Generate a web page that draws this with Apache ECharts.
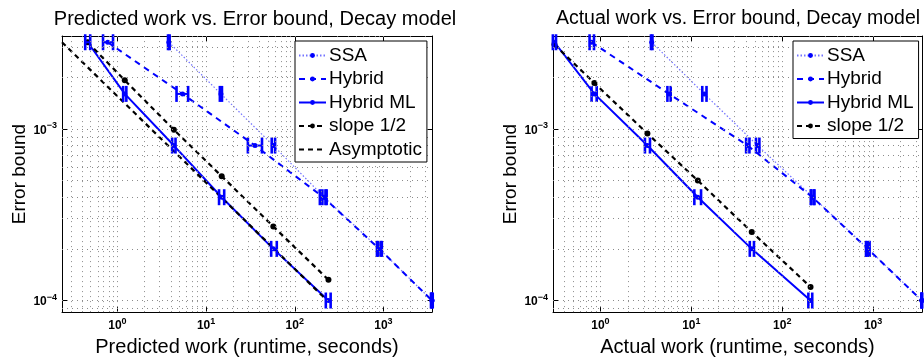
<!DOCTYPE html>
<html>
<head>
<meta charset="utf-8">
<title>Work vs. Error bound, Decay model</title>
<script src="https://cdn.jsdelivr.net/npm/echarts@6/dist/echarts.min.js"></script>
<style>
  html, body { margin: 0; padding: 0; background: #fff; }
  #chart { width: 924px; height: 362px; }
</style>
</head>
<body>
<div id="chart"></div>
<script>
const FONT = '"Liberation Sans", Arial, Helvetica, sans-serif';
const BLUE = '#0000ff';

// error bound levels (y values shared by both panels)
const errBound = [3.2e-3, 1.6e-3, 8e-4, 4e-4, 2e-4, 1e-4];

// left panel: predicted work (seconds)
const predSSA      = [3.80, 14.7, 57.3, 215, 900, 3532];
const predSSALo    = [3.72, 14.3, 55.0, 205, 870, 3480];
const predSSAHi    = [3.88, 15.1, 60.0, 222, 930, 3532];
const predHybrid   = [0.777, 5.43, 35.6, 210, 897, 3532];
const predHybridLo = [0.688, 4.64, 29.6, 192, 845, 3440];
const predHybridHi = [0.892, 6.27, 42.7, 229, 960, 3600];
const predML       = [0.462, 1.21, 4.33, 15.0, 57.3, 240];
const predMLLo     = [0.433, 1.16, 4.14, 14.0, 54.2, 224];
const predMLHi     = [0.493, 1.26, 4.52, 16.0, 62.7, 254];
const predSlope    = [3.2e-3, 1.92e-3, 9.9e-4, 5.3e-4, 2.7e-4, 1.32e-4];
const predAsymWork = [0.237, 232];
const predAsymErr  = [3.2e-3, 1e-4];

// right panel: actual work (seconds)
const actSSA      = [3.67, 13.9, 53.7, 218, 880, 3450];
const actSSALo    = [3.60, 13.2, 51.5, 210, 850, 3400];
const actSSAHi    = [3.74, 14.7, 56.1, 226, 910, 3450];
const actHybrid   = [0.80, 5.69, 41.7, 215, 873, 3430];
const actHybridLo = [0.76, 5.46, 40.1, 206, 835, 3400];
const actHybridHi = [0.85, 5.93, 43.6, 224, 910, 3450];
const actML       = [0.312, 0.859, 3.29, 11.8, 46.2, 205];
const actMLLo     = [0.300, 0.80, 3.09, 10.8, 44.0, 194];
const actMLHi     = [0.325, 0.91, 3.51, 12.8, 48.9, 214];
const actSlope    = [3.1e-3, 1.85e-3, 9.4e-4, 5.0e-4, 2.51e-4, 1.2e-4];

const yRange = [8.56e-5, 3.48e-3];
const legendNamesLeft = ['SSA', 'Hybrid', 'Hybrid ML', 'slope 1/2', 'Asymptotic'];
const legendNamesRight = ['SSA', 'Hybrid', 'Hybrid ML', 'slope 1/2'];

const panels = [
  {
    title: 'Predicted work vs. Error bound, Decay model',
    titleX: 250, titleSize: 20,
    xName: 'Predicted work (runtime, seconds)',
    grid: { left: 62, top: 36, width: 370, height: 285 },
    xRange: [0.237, 3532],
    ssa: [predSSA, predSSALo, predSSAHi],
    hybrid: [predHybrid, predHybridLo, predHybridHi],
    ml: [predML, predMLLo, predMLHi],
    slope: predSlope,
    asym: [predAsymWork, predAsymErr],
    legend: { left: 295, names: legendNamesLeft }
  },
  {
    title: 'Actual work vs. Error bound, Decay model',
    titleX: 733, titleSize: 19.5,
    xName: 'Actual work (runtime, seconds)',
    grid: { left: 553, top: 36, width: 369, height: 285 },
    xRange: [0.301, 3450],
    ssa: [actSSA, actSSALo, actSSAHi],
    hybrid: [actHybrid, actHybridLo, actHybridHi],
    ml: [actML, actMLLo, actMLHi],
    slope: actSlope,
    asym: null,
    legend: { left: 793, names: legendNamesRight }
  }
];

// 1..9 x 10^k inside a range, for the matlab style dotted grid
function logGridValues(lo, hi) {
  const out = [];
  for (let k = Math.floor(Math.log10(lo)); k <= Math.ceil(Math.log10(hi)); k++) {
    for (let m = 1; m <= 9; m++) {
      const v = m * Math.pow(10, k);
      if (v > lo * 1.001 && v < hi * 0.999) out.push(v);
    }
  }
  return out;
}

function decadeLabel(v) {
  const e = Math.log10(v);
  const r = Math.round(e);
  if (Math.abs(e - r) > 1e-6) return '';
  return '{b|10}{s|' + (r < 0 ? '\u2212' + (-r) : r) + '}';
}

const tickRich = {
  b: { fontSize: 12, fontWeight: 'bold', fontFamily: FONT, color: '#000', lineHeight: 15, verticalAlign: 'bottom' },
  s: { fontSize: 9, fontWeight: 'bold', fontFamily: FONT, color: '#000', lineHeight: 15, verticalAlign: 'top' }
};

function makeAxes(p, gi) {
  const common = {
    type: 'log', logBase: 10, gridIndex: gi,
    axisLine: { show: true, lineStyle: { color: '#000', width: 1 } },
    axisTick: { show: true, inside: true, length: 5, lineStyle: { color: '#000' } },
    splitLine: { show: false },
    minorTick: { show: false }
  };
  const xs = [
    Object.assign({}, common, {
      position: 'bottom', min: p.xRange[0], max: p.xRange[1],
      name: p.xName, nameLocation: 'middle', nameGap: 22,
      nameTextStyle: { fontFamily: FONT, fontSize: 20, color: '#000' },
      axisLabel: { formatter: decadeLabel, rich: tickRich, margin: 5, showMinLabel: false, showMaxLabel: false }
    }),
    Object.assign({}, common, {
      position: 'top', min: p.xRange[0], max: p.xRange[1],
      axisLabel: { show: false }
    })
  ];
  const ys = [
    Object.assign({}, common, {
      position: 'left', min: yRange[0], max: yRange[1],
      name: 'Error bound', nameLocation: 'middle', nameGap: 30,
      nameTextStyle: { fontFamily: FONT, fontSize: 19, color: '#000' },
      axisLabel: { formatter: decadeLabel, rich: tickRich, margin: 5, showMinLabel: false, showMaxLabel: false }
    }),
    Object.assign({}, common, {
      position: 'right', min: yRange[0], max: yRange[1],
      axisLabel: { show: false }
    })
  ];
  return { xs, ys };
}

function lineSeries(name, gi, xs, ys, st) {
  return {
    name: name, type: 'line', xAxisIndex: gi * 2, yAxisIndex: gi * 2,
    data: xs.map((x, i) => [x, ys[i]]),
    symbol: st.symbol || 'circle', symbolSize: st.symbolSize || 5,
    showSymbol: st.symbol !== 'none',
    itemStyle: { color: st.markerColor || st.color },
    lineStyle: { color: st.color, width: st.width, type: st.type },
    z: st.z || 3, silent: true, animation: false
  };
}

function errorBarSeries(name, gi, xs, ys, lo, hi) {
  return {
    name: name, type: 'custom', xAxisIndex: gi * 2, yAxisIndex: gi * 2,
    data: xs.map((x, i) => [x, ys[i], lo[i], hi[i]]),
    encode: { x: 0, y: 1 },
    renderItem: function (params, api) {
      const y = api.value(1);
      const a = api.coord([api.value(2), y]);
      const b = api.coord([api.value(3), y]);
      const h = 8;
      const st = { stroke: BLUE, lineWidth: 2.6 };
      return {
        type: 'group',
        children: [
          { type: 'line', shape: { x1: a[0], y1: a[1], x2: b[0], y2: b[1] }, style: { stroke: BLUE, lineWidth: 2 } },
          { type: 'line', shape: { x1: a[0], y1: a[1] - h, x2: a[0], y2: a[1] + h }, style: st },
          { type: 'line', shape: { x1: b[0], y1: b[1] - h, x2: b[0], y2: b[1] + h }, style: st }
        ]
      };
    },
    z: 4, silent: true, animation: false
  };
}

const gridLineStyle = { color: '#8c8c8c', width: 1, type: [1, 4] };

const option = {
  animation: false,
  backgroundColor: '#fff',
  title: [], grid: [], xAxis: [], yAxis: [], legend: [], series: []
};

panels.forEach((p, gi) => {
  const g = p.grid;
  option.grid.push({ left: g.left, top: g.top, width: g.width, height: g.height, containLabel: false });
  option.title.push({
    text: p.title, left: p.titleX, top: 4, textAlign: 'center',
    textStyle: { fontFamily: FONT, fontSize: p.titleSize, fontWeight: 'normal', color: '#000' }
  });
  const ax = makeAxes(p, gi);
  option.xAxis.push(...ax.xs);
  option.yAxis.push(...ax.ys);

  // dotted grid at every 1..9 x 10^k, drawn edge to edge of the plot box
  const vLines = logGridValues(p.xRange[0], p.xRange[1])
    .map(v => [{ coord: [v, yRange[0]] }, { coord: [v, yRange[1]] }]);
  const hLines = logGridValues(yRange[0], yRange[1])
    .map(v => [{ coord: [p.xRange[0], v] }, { coord: [p.xRange[1], v] }]);
  option.series.push({
    name: 'grid' + gi, type: 'line', xAxisIndex: gi * 2, yAxisIndex: gi * 2, data: [],
    silent: true, z: 1, animation: false,
    markLine: {
      silent: true, symbol: ['none', 'none'], label: { show: false }, animation: false,
      lineStyle: gridLineStyle,
      emphasis: { disabled: true },
      data: vLines.concat(hLines)
    }
  });

  option.series.push(lineSeries('SSA', gi, p.ssa[0], errBound,
    { color: 'rgba(0,0,255,0.55)', markerColor: BLUE, width: 1.2, type: [1.5, 2], symbolSize: 5 }));
  option.series.push(lineSeries('Hybrid', gi, p.hybrid[0], errBound,
    { color: BLUE, width: 2, type: [6, 5], symbolSize: 5 }));
  option.series.push(lineSeries('Hybrid ML', gi, p.ml[0], errBound,
    { color: BLUE, width: 2, type: 'solid', symbolSize: 5 }));
  option.series.push(lineSeries('slope 1/2', gi, p.ml[0], p.slope,
    { color: '#000', width: 2.2, type: [5, 4], symbolSize: 6 }));
  if (p.asym) {
    option.series.push(lineSeries('Asymptotic', gi, p.asym[0], p.asym[1],
      { color: '#000', width: 2.2, type: [5, 4], symbol: 'none' }));
  }
  option.series.push(errorBarSeries('SSA err', gi, p.ssa[0], errBound, p.ssa[1], p.ssa[2]));
  option.series.push(errorBarSeries('Hybrid err', gi, p.hybrid[0], errBound, p.hybrid[1], p.hybrid[2]));
  option.series.push(errorBarSeries('Hybrid ML err', gi, p.ml[0], errBound, p.ml[1], p.ml[2]));

  option.legend.push({
    left: p.legend.left, top: 41, orient: 'vertical',
    data: p.legend.names.map(n => n === 'Asymptotic' ? { name: n, itemStyle: { opacity: 0 } } : n),
    itemWidth: 27, itemHeight: 6, itemGap: 4.5,
    padding: [5, 5, 3, 3],
    borderColor: '#000', borderWidth: 1, backgroundColor: '#fff',
    selectedMode: false, z: 10,
    textStyle: { fontFamily: FONT, fontSize: 19, color: '#000', lineHeight: 19, padding: [0, 0, 0, -2] }
  });
});

const chart = echarts.init(document.getElementById('chart'), null, { renderer: 'canvas' });
chart.setOption(option);
</script>
</body>
</html>
